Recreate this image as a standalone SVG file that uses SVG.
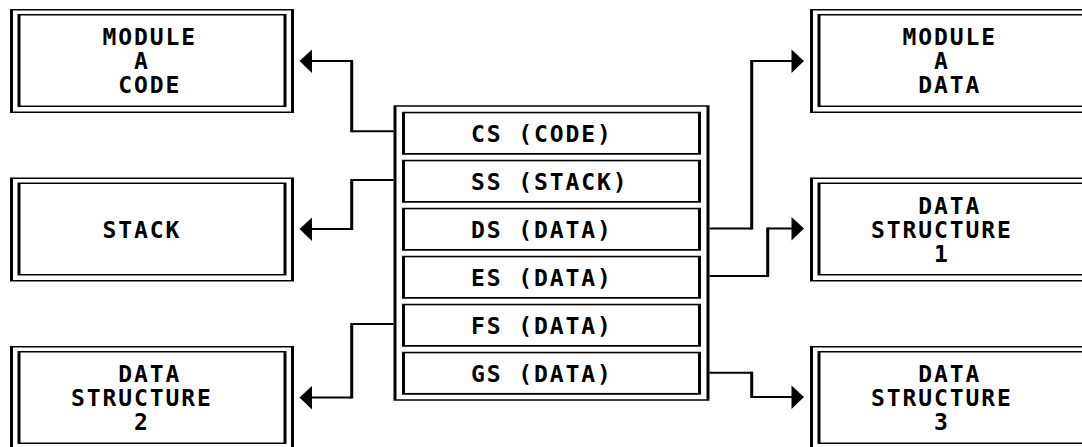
<svg xmlns="http://www.w3.org/2000/svg" width="1082" height="447" viewBox="0 0 1082 447">
<style>
  .k{fill:#000}
  .w{fill:#fff}
  text{font-family:"DejaVu Sans Mono","Liberation Mono",monospace;font-weight:bold;font-size:23px;letter-spacing:1.9px;fill:#000}
  .h{stroke:#000;stroke-width:2;fill:none}
  .v{stroke:#000;stroke-width:3;fill:none}
  .ah{fill:#000}
</style>
<defs>
  <g id="frame">
    <rect class="k" x="0" y="0" width="284" height="104"/>
    <rect class="w" x="3" y="1.5" width="278" height="101"/>
    <rect class="k" x="7.5" y="5" width="269" height="93"/>
    <rect class="w" x="10.5" y="6.5" width="263" height="90"/>
  </g>
  <g id="row">
    <rect class="k" x="0" y="0" width="299" height="43"/>
    <rect class="w" x="3" y="1.6" width="293" height="39.6"/>
  </g>
  <polygon id="arrL" class="ah" points="0,0 12.5,-11.5 12.5,12"/>
  <polygon id="arrR" class="ah" points="0,0 -12.5,-11.5 -12.5,12"/>
</defs>
<rect x="0" y="0" width="1082" height="447" fill="#fff"/>

<g id="module-a-code" transform="translate(10,9)">
  <use href="#frame"/>
  <text x="92.5" y="36">MODULE</text>
  <text x="124" y="60">A</text>
  <text x="108.25" y="84">CODE</text>
</g>
<g id="stack" transform="translate(10,177.5)">
  <use href="#frame"/>
  <text x="92.5" y="60">STACK</text>
</g>
<g id="data-structure-2" transform="translate(10,346)">
  <use href="#frame"/>
  <text x="108.25" y="36">DATA</text>
  <text x="61" y="60">STRUCTURE</text>
  <text x="124" y="84">2</text>
</g>
<g id="module-a-data" transform="translate(810,9)">
  <use href="#frame"/>
  <text x="92.5" y="36">MODULE</text>
  <text x="124" y="60">A</text>
  <text x="108.25" y="84">DATA</text>
</g>
<g id="data-structure-1" transform="translate(810,177.5)">
  <use href="#frame"/>
  <text x="108.25" y="36">DATA</text>
  <text x="61" y="60">STRUCTURE</text>
  <text x="124" y="84">1</text>
</g>
<g id="data-structure-3" transform="translate(810,346)">
  <use href="#frame"/>
  <text x="108.25" y="36">DATA</text>
  <text x="61" y="60">STRUCTURE</text>
  <text x="124" y="84">3</text>
</g>

<g id="segment-registers">
  <rect class="k" x="393.5" y="105.25" width="316" height="295.5"/>
  <rect class="w" x="396.5" y="106.75" width="310" height="292.5"/>
  <g id="reg-cs" transform="translate(402,111.75)"><use href="#row"/><text x="69" y="30">CS (CODE)</text></g>
  <g id="reg-ss" transform="translate(402,159.75)"><use href="#row"/><text x="69" y="30">SS (STACK)</text></g>
  <g id="reg-ds" transform="translate(402,207.75)"><use href="#row"/><text x="69" y="30">DS (DATA)</text></g>
  <g id="reg-es" transform="translate(402,255.75)"><use href="#row"/><text x="69" y="30">ES (DATA)</text></g>
  <g id="reg-fs" transform="translate(402,303.75)"><use href="#row"/><text x="69" y="30">FS (DATA)</text></g>
  <g id="reg-gs" transform="translate(402,351.75)"><use href="#row"/><text x="69" y="30">GS (DATA)</text></g>
</g>

<g id="connectors">
  <g id="c-cs">
    <path class="h" d="M393.5,131.3 H351.7"/>
    <path class="v" d="M351.7,132.3 V60"/>
    <path class="h" d="M351.7,61 H311"/>
    <use href="#arrL" x="299.5" y="61"/>
  </g>
  <g id="c-ss">
    <path class="h" d="M393.5,180 H351.7"/>
    <path class="v" d="M351.7,179 V230"/>
    <path class="h" d="M351.7,229 H311"/>
    <use href="#arrL" x="299.5" y="229"/>
  </g>
  <g id="c-fs">
    <path class="h" d="M393.5,324 H351.7"/>
    <path class="v" d="M351.7,323 V398.5"/>
    <path class="h" d="M351.7,397.5 H311"/>
    <use href="#arrL" x="299.5" y="397.5"/>
  </g>
  <g id="c-ds">
    <path class="h" d="M709.5,228.5 H751.7"/>
    <path class="v" d="M751.7,229.5 V60"/>
    <path class="h" d="M751.7,61 H793"/>
    <use href="#arrR" x="804" y="61"/>
  </g>
  <g id="c-es">
    <path class="h" d="M709.5,276 H767.7"/>
    <path class="v" d="M767.7,277 V227.5"/>
    <path class="h" d="M767.7,228.5 H793"/>
    <use href="#arrR" x="804" y="228.5"/>
  </g>
  <g id="c-gs">
    <path class="h" d="M709.5,372.7 H751.7"/>
    <path class="v" d="M751.7,371.7 V398"/>
    <path class="h" d="M751.7,397 H793"/>
    <use href="#arrR" x="804" y="397"/>
  </g>
</g>
</svg>
